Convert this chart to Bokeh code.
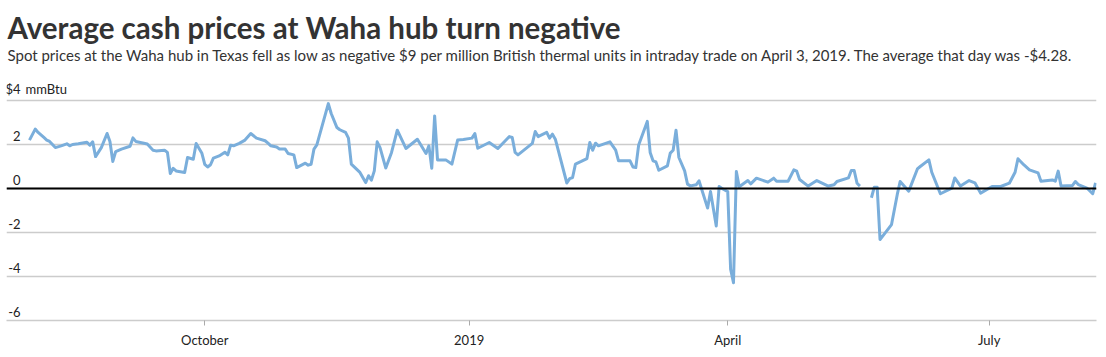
import numpy as np
import pandas as pd
from bokeh.plotting import figure
from bokeh.models import Range1d, FixedTicker, Span, Label
from bokeh.embed import file_html
from bokeh.resources import INLINE
from bokeh.core.properties import value

# ---------------- data ----------------
dates = [
    "2018-08-01", "2018-08-03", "2018-08-04", "2018-08-06", "2018-08-07", "2018-08-08",
    "2018-08-10", "2018-08-12", "2018-08-14", "2018-08-15", "2018-08-16", "2018-08-18",
    "2018-08-21", "2018-08-22", "2018-08-23", "2018-08-24", "2018-08-26", "2018-08-28",
    "2018-08-29", "2018-08-30", "2018-08-31", "2018-09-02", "2018-09-05", "2018-09-06",
    "2018-09-07", "2018-09-09", "2018-09-11", "2018-09-13", "2018-09-14", "2018-09-17",
    "2018-09-18", "2018-09-19", "2018-09-20", "2018-09-21", "2018-09-24", "2018-09-25",
    "2018-09-27", "2018-09-28", "2018-09-30", "2018-10-01", "2018-10-02", "2018-10-03",
    "2018-10-04", "2018-10-06", "2018-10-08", "2018-10-09", "2018-10-10", "2018-10-11",
    "2018-10-13", "2018-10-15", "2018-10-17", "2018-10-19", "2018-10-22", "2018-10-23",
    "2018-10-24", "2018-10-26", "2018-10-27", "2018-10-29", "2018-10-30", "2018-11-01",
    "2018-11-02", "2018-11-05", "2018-11-06", "2018-11-07", "2018-11-08", "2018-11-09",
    "2018-11-13", "2018-11-14", "2018-11-16", "2018-11-17", "2018-11-19", "2018-11-20",
    "2018-11-21", "2018-11-24", "2018-11-26", "2018-11-27", "2018-11-28", "2018-11-29",
    "2018-11-30", "2018-12-01", "2018-12-03", "2018-12-05", "2018-12-07", "2018-12-10",
    "2018-12-14", "2018-12-17", "2018-12-18", "2018-12-19", "2018-12-20", "2018-12-21",
    "2018-12-24", "2018-12-26", "2018-12-28", "2018-12-30", "2019-01-02", "2019-01-03",
    "2019-01-04", "2019-01-08", "2019-01-11", "2019-01-15", "2019-01-16", "2019-01-17",
    "2019-01-18", "2019-01-23", "2019-01-24", "2019-01-25", "2019-01-28", "2019-01-29",
    "2019-01-30", "2019-01-31", "2019-02-04", "2019-02-05", "2019-02-06", "2019-02-07",
    "2019-02-09", "2019-02-11", "2019-02-12", "2019-02-13", "2019-02-14", "2019-02-15",
    "2019-02-19", "2019-02-21", "2019-02-22", "2019-02-26", "2019-02-27", "2019-02-28",
    "2019-03-01", "2019-03-04", "2019-03-05", "2019-03-06", "2019-03-07", "2019-03-08",
    "2019-03-11", "2019-03-12", "2019-03-13", "2019-03-14", "2019-03-15", "2019-03-17",
    "2019-03-18", "2019-03-19", "2019-03-21", "2019-03-22", "2019-03-25", "2019-03-26",
    "2019-03-28", "2019-03-29", "2019-03-30", "2019-04-01", "2019-04-02", "2019-04-03",
    "2019-04-04", "2019-04-05", "2019-04-08", "2019-04-09", "2019-04-11", "2019-04-15",
    "2019-04-17", "2019-04-18", "2019-04-22", "2019-04-24", "2019-04-25", "2019-04-26",
    "2019-04-29", "2019-05-02", "2019-05-06", "2019-05-08", "2019-05-09", "2019-05-13",
    "2019-05-14", "2019-05-15", "2019-05-16", "2019-05-17", "2019-05-19", "2019-05-21",
    "2019-05-22", "2019-05-23", "2019-05-24", "2019-05-28", "2019-05-30", "2019-05-31",
    "2019-06-03", "2019-06-06", "2019-06-07", "2019-06-10", "2019-06-11", "2019-06-14",
    "2019-06-18", "2019-06-19", "2019-06-21", "2019-06-24", "2019-06-26", "2019-06-28",
    "2019-07-02", "2019-07-05", "2019-07-08", "2019-07-10", "2019-07-11", "2019-07-13",
    "2019-07-15", "2019-07-18", "2019-07-19", "2019-07-23", "2019-07-24", "2019-07-25",
    "2019-07-26", "2019-07-30", "2019-07-31", "2019-08-01", "2019-08-04", "2019-08-06",
    "2019-08-07",
]
prices = [
    2.2, 2.7, 2.55, 2.32, 2.2, 2.14,
    1.86, 1.94, 2.03, 1.94, 2.0, 2.03,
    2.1, 1.97, 2.12, 1.45, 1.86, 2.5,
    2.14, 1.23, 1.68, 1.79, 1.92, 2.3,
    2.14, 2.08, 2.02, 1.74, 1.71, 1.74,
    1.64, 0.68, 0.92, 0.8, 0.73, 1.41,
    1.33, 2.05, 1.6, 1.1, 0.98, 1.08,
    1.38, 1.48, 1.65, 1.53, 1.97, 1.94,
    2.05, 2.2, 2.5, 2.29, 2.17, 2.06,
    1.94, 1.89, 1.8, 1.79, 1.59, 1.53,
    0.95, 1.15, 1.06, 1.1, 1.79, 1.98,
    3.86, 3.41, 2.77, 2.67, 2.55, 2.29,
    1.11, 0.73, 0.27, 0.58, 0.38, 0.8,
    2.12, 1.86, 0.93, 1.64, 2.65, 1.82,
    2.24, 1.59, 1.94, 0.92, 3.3, 1.3,
    1.29, 1.11, 2.2, 2.23, 2.29, 2.5,
    1.83, 2.09, 1.82, 2.36, 2.32, 1.64,
    1.53, 2.05, 2.59, 2.36, 2.55, 2.29,
    2.47, 2.24, 0.25, 0.45, 0.5, 1.11,
    1.23, 1.36, 2.09, 1.74, 2.06, 1.94,
    2.12, 1.74, 1.26, 1.26, 0.98, 0.95,
    1.98, 3.05, 1.64, 1.26, 1.21, 0.83,
    1.03, 1.61, 1.74, 2.65, 1.41, 0.8,
    0.2, 0.12, 0.17, 0.35, -0.89, -0.14,
    -1.7, 0.09, 0.0, -0.14, -3.67, -4.28,
    0.77, 0.08, 0.36, 0.21, 0.47, 0.29,
    0.47, 0.33, 0.33, 0.85, 0.79, 0.41,
    0.11, 0.36, 0.11, 0.17, 0.32, 0.48,
    0.82, 0.82, 0.24, 0.11, np.nan, -0.42,
    0.06, 0.06, -2.32, -1.64, -0.27, 0.32,
    -0.12, 0.89, 1.0, 1.3, 0.74, -0.24,
    0.02, 0.48, 0.11, 0.36, 0.26, -0.21,
    0.09, 0.09, 0.24, 0.74, 1.35, 1.08,
    0.85, 0.71, 0.33, 0.39, 0.33, 0.79,
    0.11, 0.14, 0.32, 0.18, 0.02, -0.24,
    0.26,
]

title = "Average cash prices at Waha hub turn negative"
subtitle = ("Spot prices at the Waha hub in Texas fell as low as negative $9 per million "
            "British thermal units in intraday trade on April 3, 2019. The average that day was -$4.28.")
y_ticks = [4, 2, 0, -2, -4, -6]
y_tick_labels = ["$4", "2", "0", "-2", "-4", "-6"]
y_unit = "mmBtu"
x_ticks = ["2018-10-01", "2019-01-01", "2019-04-01", "2019-07-01"]
x_tick_labels = ["October", "2019", "April", "July"]

# ---------------- layout constants ----------------
FONT = "Lato"
X_START = pd.Timestamp("2018-07-24")
X_END = pd.Timestamp("2019-08-07 08:00")
PX_PER_UNIT = 22.0
GRID_TOP_PX = 100          # pixel row of the $4 gridline
Y_MIN = -6
Y_MAX = 4 + GRID_TOP_PX / PX_PER_UNIT   # frame reaches the top of the canvas


def y_at_pixel(py):
    return Y_MAX - py / PX_PER_UNIT


x = pd.to_datetime(dates)
y = np.array(prices, dtype=float)

p = figure(width=1106, height=357, x_axis_type="datetime",
           x_range=Range1d(X_START, X_END), y_range=Range1d(Y_MIN, Y_MAX),
           y_axis_location=None, toolbar_location=None, output_backend="svg",
           min_border_left=6, min_border_right=10, min_border_top=0,
           min_border_bottom=37)
p.outline_line_color = None
p.background_fill_color = "white"
p.border_fill_color = "white"

# grid
p.xgrid.visible = False
p.ygrid.ticker = FixedTicker(ticks=y_ticks)
p.ygrid.grid_line_color = "#cccccc"
p.ygrid.grid_line_width = 1.5

# x axis
tick_ms = [pd.Timestamp(t).value / 1e6 for t in x_ticks]
p.xaxis.ticker = FixedTicker(ticks=tick_ms)
p.xaxis.major_label_overrides = {ms: lab for ms, lab in zip(tick_ms, x_tick_labels)}
p.xaxis.axis_line_color = "#cccccc"
p.xaxis.axis_line_width = 1.5
p.xaxis.major_tick_line_color = "#aaaaaa"
p.xaxis.major_tick_in = 0
p.xaxis.major_tick_out = 5
p.xaxis.minor_tick_line_color = None
p.xaxis.major_label_standoff = 6
p.xaxis.major_label_text_font = FONT
p.xaxis.major_label_text_font_size = "13px"
p.xaxis.major_label_text_color = "#222222"

# zero line
p.add_layout(Span(location=0, dimension="width", line_color="black", line_width=2))

# series
p.line(x, y, line_color="#7aaedb", line_width=3, line_join="round")

# y labels inside the plot
p.text(x=[X_START] * len(y_ticks), y=y_ticks, text=y_tick_labels,
       x_offset=14, y_offset=-4, text_align="right", text_baseline="bottom",
       text_font=value(FONT), text_font_size="13px", text_color="#222222")
p.text(x=[X_START], y=[y_ticks[0]], text=[y_unit],
       x_offset=19, y_offset=-4, text_align="left", text_baseline="bottom",
       text_font=value(FONT), text_font_size="13px", text_color="#222222")

# title + subtitle
p.add_layout(Label(x=X_START, y=y_at_pixel(27), x_offset=1, text=title,
                   text_font=FONT, text_font_size="29.5px", text_font_style="bold",
                   text_color="#333333", text_baseline="alphabetic"))
p.add_layout(Label(x=X_START, y=y_at_pixel(54), x_offset=1, text=subtitle,
                   text_font=FONT, text_font_size="15px",
                   text_color="#333333", text_baseline="alphabetic"))

open("out.html", "w").write(file_html(p, INLINE))
